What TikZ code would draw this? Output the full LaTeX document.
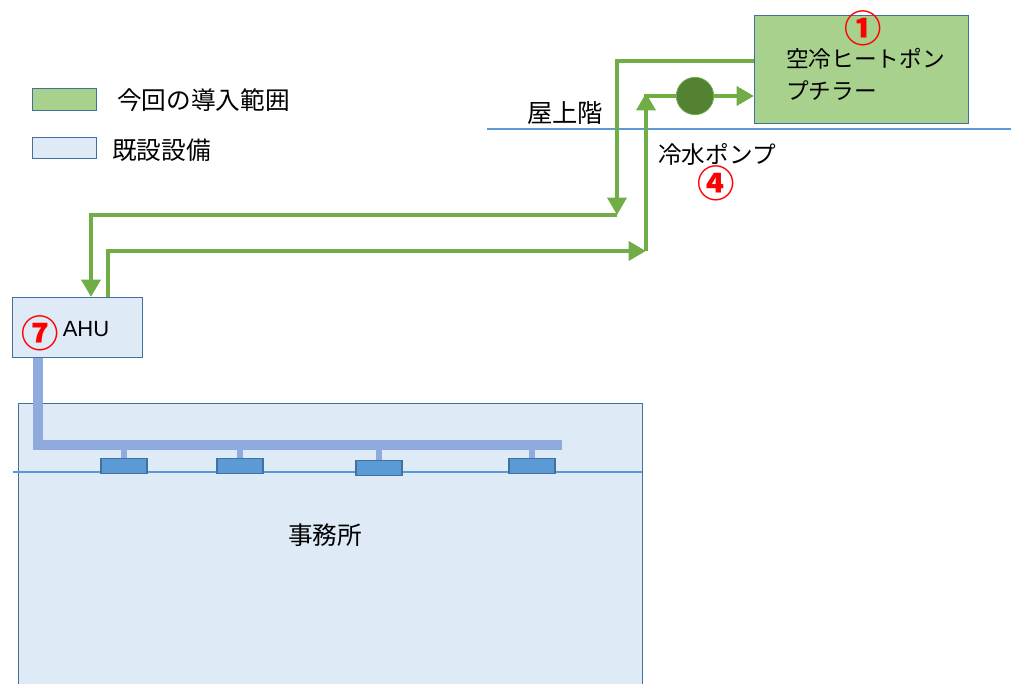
\documentclass[tikz,border=0pt]{standalone}
\usepackage{fontspec}
\setmainfont{Liberation Sans}
\newfontfamily\cjk{Noto Sans CJK JP}
\usetikzlibrary{arrows.meta}
\definecolor{newgreen}{HTML}{A9D18E}
\definecolor{pipegreen}{HTML}{70AD47}
\definecolor{pumpgreen}{HTML}{548235}
\definecolor{oldblue}{HTML}{DEEBF7}
\definecolor{edgeblue}{HTML}{41719C}
\definecolor{lineblue}{HTML}{5B9BD5}
\definecolor{ductblue}{HTML}{8FAADC}
\tikzset{
  newbox/.style={draw=edgeblue, fill=newgreen, line width=0.9pt, inner sep=0pt, anchor=north west},
  oldbox/.style={draw=edgeblue, fill=oldblue, line width=0.9pt, inner sep=0pt, anchor=north west},
  pipe/.style={draw=pipegreen, line width=3.7pt},
  tip/.style={-{Triangle[length=13pt,width=14pt]}},
  duct/.style={draw=ductblue, line width=7pt},
  stub/.style={draw=ductblue, line width=5pt},
  diffuser/.style={draw=edgeblue, fill=lineblue, line width=0.8pt, inner sep=0pt, minimum width=34.5pt, minimum height=11.25pt},
  thinline/.style={draw=lineblue, line width=0.9pt},
  jtext/.style={font=\cjk\fontsize{17}{24}\selectfont, inner sep=0pt, text=black},
  num/.style={font=\cjk\bfseries\fontsize{28}{30}\selectfont, inner sep=0pt, text=red}
}
\begin{document}
\begin{tikzpicture}[x=0.75pt,y=-0.75pt]
\useasboundingbox (0,0) rectangle (1011,684);
% legend
\node[newbox, minimum width=48pt, minimum height=16.5pt] (lgnew) at (32,88) {};
\node[oldbox, minimum width=48pt, minimum height=15.75pt] (lgold) at (32,137) {};
\node[jtext, font=\cjk\fontsize{18.5}{22}\selectfont, anchor=west] (lgnewt) at (117,100) {今回の導入範囲};
\node[jtext, font=\cjk\fontsize{18.5}{22}\selectfont, anchor=west] (lgoldt) at (112,150) {既設設備};
% office
\node[oldbox, minimum width=468pt, minimum height=213pt] (office) at (18,403) {};
\coordinate (ol) at (13,472);
\coordinate (or) at (642,472);
\draw[thinline] (ol) -- (or);
\node[jtext, font=\cjk\fontsize{18.5}{22}\selectfont] (officet) at (325,535) {事務所};
% roof line
\coordinate (rl) at (487,129);
\coordinate (rr) at (1011,129);
\draw[thinline] (rl) -- (rr);
\node[jtext, font=\cjk\fontsize{19}{22}\selectfont] (roof) at (565,113) {屋上階};
% chiller
\node[newbox, minimum width=160.5pt, minimum height=81pt] (chiller) at (754,15) {};
\node[num] (n1) at (863,28) {①};
\node[jtext, anchor=north west, align=left] (chillert) at (786,48) {空冷ヒートポン\\プチラー};
% AHU
\node[oldbox, minimum width=97.5pt, minimum height=45pt] (ahu) at (12,297) {};
\node[num] (n7) at (40,333) {⑦};
\node[font=\fontsize{16.5}{20}\selectfont, inner sep=0pt] (ahut) at (86,329) {AHU};
% pump
\node[circle, draw=pipegreen, fill=pumpgreen, line width=0.6pt, minimum size=28pt, inner sep=0pt] (pump) at (695,96) {};
\node[jtext, font=\cjk\fontsize{17.7}{22}\selectfont] (pumpt) at (717,154) {冷水ポンプ};
\node[num] (n4) at (716,183) {④};
% supply pipe
\coordinate (c1) at (617,61);
\coordinate (c2) at (617,215);
\coordinate (c3) at (91,215);
\draw[pipe, tip] (c1 -| chiller.west) -- (c1) -- (c2);
\draw[pipe, tip] (c2) -- (c3) -- (c3 |- ahu.north);
% return pipe
\coordinate (r1) at (108,251);
\coordinate (r2) at (646,251);
\coordinate (r3) at (646,93);
\coordinate (r4) at (644,96);
\draw[pipe, tip] (r1 |- ahu.north) -- (r1) -- (r2);
\draw[pipe, tip] (r2) -- (r3);
\draw[pipe] (r4) -- (pump.west);
\draw[pipe, tip] (pump.east) -- (pump.east -| chiller.west);
% duct
\coordinate (d1) at (38,445);
\coordinate (d2) at (562,445);
\draw[duct] (d1 |- ahu.south) -- (d1) -- (d2);
\node[diffuser] (f1) at (124,466) {};
\node[diffuser] (f2) at (240,466) {};
\node[diffuser] (f3) at (379,468) {};
\node[diffuser] (f4) at (532,466) {};
\foreach \f in {f1,f2,f3,f4}{
  \draw[stub] (\f.north |- d1) -- (\f.north);
}
\end{tikzpicture}
\end{document}
